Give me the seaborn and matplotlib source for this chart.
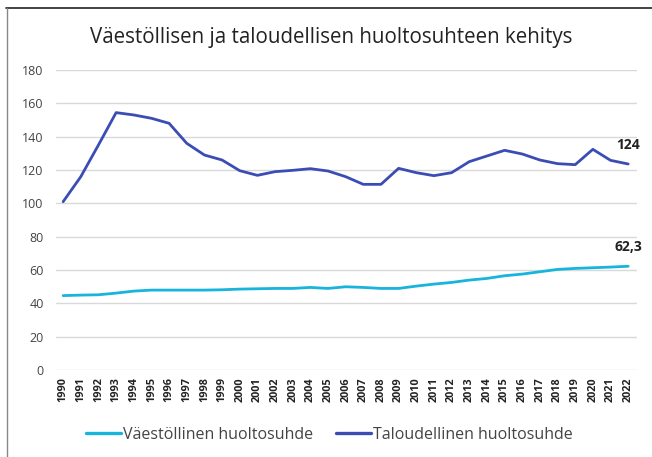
import pandas as pd
import numpy as np
import matplotlib.pyplot as plt
from matplotlib.lines import Line2D
import seaborn as sb

years = list(range(1990, 2023))
vaesto = [44.7, 45.0, 45.2, 46.2, 47.4, 48.0, 48.0, 48.0, 48.0, 48.2,
          48.6, 48.8, 49.0, 49.0, 49.6, 49.0, 50.0, 49.6, 49.0, 49.0,
          50.4, 51.6, 52.6, 54.0, 55.0, 56.6, 57.6, 59.0, 60.4, 61.0,
          61.4, 61.8, 62.3]
talous = [101, 116, 135, 154.4, 153, 151, 148, 136, 129, 126,
          119.6, 116.8, 119, 119.8, 120.8, 119.4, 116, 111.4, 111.4, 121,
          118.4, 116.6, 118.4, 125, 128.4, 131.8, 129.6, 126, 123.8, 123.2,
          132.4, 125.8, 123.6]
series_names = ['Väestöllinen huoltosuhde', 'Taloudellinen huoltosuhde']
colors = ['#17b4dc', '#3b4db5']

df = pd.DataFrame({'Vuosi': years, series_names[0]: vaesto, series_names[1]: talous})
df = df.melt(id_vars='Vuosi', var_name='Sarja', value_name='Arvo')

sb.set_style('white')
plt.rcParams['font.family'] = ['Open Sans', 'DejaVu Sans']

fig = plt.figure(figsize=(6.52, 4.57), dpi=100)
ax = fig.add_axes([0.086, 0.19, 0.891, 0.657])

sb.lineplot(data=df, x='Vuosi', y='Arvo', hue='Sarja', palette=colors,
            linewidth=2.0, ax=ax, legend=False)

ax.set_xlim(1989.6, 2022.5)
ax.set_ylim(0, 180)
ax.set_yticks(range(0, 181, 20))
ax.set_xticks(years)
ax.set_xticklabels([str(y) for y in years], rotation=90, fontsize=7.8,
                   fontweight='bold', color='#222222')
ax.tick_params(axis='y', labelsize=9, colors='#444444', length=0, pad=9)
ax.tick_params(axis='x', length=0, pad=5)
ax.grid(axis='y', color='#d9d9d9', linewidth=1.0)
ax.set_axisbelow(True)
for s in ax.spines.values():
    s.set_visible(False)
ax.set_xlabel('')
ax.set_ylabel('')

# end-point labels
ax.annotate('124', (years[-1], talous[-1]), xytext=(0, 11), textcoords='offset points',
            ha='center', fontsize=10, fontweight='bold', color='#222222')
ax.annotate(f'{vaesto[-1]:.1f}'.replace('.', ','), (years[-1], vaesto[-1]), xytext=(0, 11),
            textcoords='offset points', ha='center', fontsize=10,
            fontweight='bold', color='#222222')

fig.text(0.508, 0.917, 'Väestöllisen ja taloudellisen huoltosuhteen kehitys',
         ha='center', va='center', fontsize=14.8, color='#222222')

handles = [Line2D([0], [0], color=c, linewidth=2.4) for c in colors]
fig.legend(handles, series_names, loc='center', bbox_to_anchor=(0.505, 0.048),
           ncol=2, frameon=False, fontsize=11.5, handlelength=2.2,
           handletextpad=0.15, columnspacing=1.4, labelcolor='#444444')

# frame edges visible in the reference
fig.add_artist(Line2D([0.009, 1.0], [0.982, 0.982], color='#222222', linewidth=1.2))
fig.add_artist(Line2D([0.011, 0.011], [0.0, 0.982], color='#888888', linewidth=1.0))

fig.savefig('out.png', dpi=100)
